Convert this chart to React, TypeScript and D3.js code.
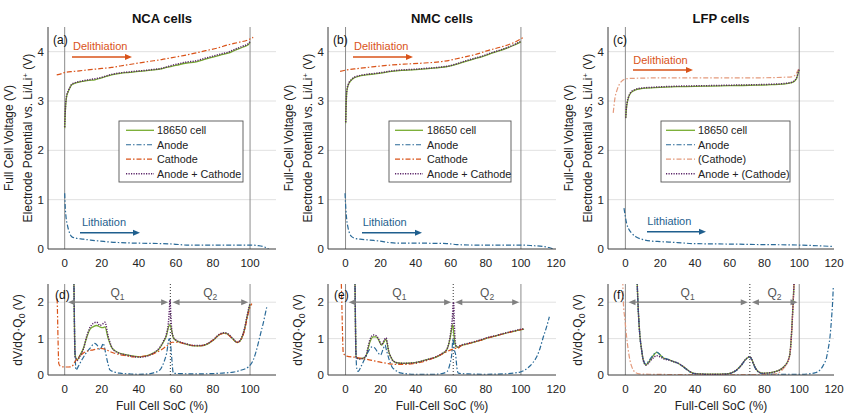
import React from "react";
import * as d3 from "d3";

type Pt = [number, number];

// ---------------- Top row: voltage vs SoC ----------------
const ncaCellV: Pt[] = [[0,2.45],[0.3,2.75],[0.6,2.95],[1,3.08],[1.9,3.19],[3,3.28],[3.8,3.33],[5.5,3.36],[7.4,3.38],[10,3.4],[13,3.42],[16.3,3.43],[20,3.47],[25.3,3.53],[30,3.56],[35,3.58],[40,3.6],[43.3,3.61],[48,3.63],[52,3.65],[55,3.68],[57.7,3.7],[62,3.74],[66,3.77],[70.3,3.79],[75,3.84],[80,3.89],[84,3.93],[88.2,3.97],[92,4.03],[96,4.09],[99,4.14],[100,4.19]];
const ncaSumV: Pt[] = [[0,2.47],[0.3,2.78],[0.6,2.97],[1,3.1],[1.9,3.2],[3,3.29],[3.8,3.34],[5.5,3.37],[7.4,3.39],[10,3.41],[13,3.43],[16.3,3.45],[20,3.48],[25.3,3.54],[30,3.57],[35,3.59],[40,3.61],[43.3,3.62],[48,3.64],[52,3.66],[55,3.69],[57.7,3.72],[62,3.76],[66,3.79],[70.3,3.81],[75,3.86],[80,3.91],[84,3.95],[88.2,3.99],[92,4.05],[96,4.11],[99,4.16],[100,4.2]];
const ncaCathodeV: Pt[] = [[-4.3,3.53],[-2,3.55],[0.2,3.58],[5,3.6],[10,3.62],[15,3.64],[20,3.66],[25.3,3.68],[30,3.71],[35,3.74],[40,3.77],[45,3.8],[52.3,3.84],[58,3.88],[64,3.92],[70.3,3.97],[76,4.02],[82,4.07],[88.2,4.14],[94,4.19],[99,4.24],[101.7,4.29]];
const ncaAnodeV: Pt[] = [[0,1.13],[0.3,0.85],[0.7,0.66],[1.5,0.48],[2.5,0.34],[3.8,0.25],[6,0.22],[10,0.2],[14,0.18],[19.3,0.16],[25,0.14],[30,0.13],[37,0.12],[45,0.115],[52,0.11],[58.6,0.1],[65.8,0.08],[75,0.08],[85,0.08],[100,0.08],[104,0.07],[107,0.05],[109,0.02],[110,0.0]];

const nmcCellV: Pt[] = [[0.1,2.55],[0.3,2.85],[0.7,3.19],[1.5,3.32],[3.5,3.43],[5,3.47],[7.3,3.5],[12,3.53],[16.8,3.55],[21,3.57],[26.3,3.6],[32,3.62],[38,3.63],[45.3,3.65],[52,3.67],[58.6,3.7],[63,3.74],[68.1,3.8],[73,3.85],[78,3.9],[83.4,3.97],[88,4.02],[92,4.07],[96,4.13],[100,4.2]];
const nmcSumV: Pt[] = [[0.1,2.57],[0.3,2.88],[0.7,3.2],[1.5,3.33],[3.5,3.44],[5,3.48],[7.3,3.51],[12,3.54],[16.8,3.56],[21,3.58],[26.3,3.61],[32,3.63],[38,3.64],[45.3,3.66],[52,3.68],[58.6,3.71],[63,3.75],[68.1,3.81],[73,3.86],[78,3.91],[83.4,3.98],[88,4.03],[92,4.08],[96,4.14],[100,4.21]];
const nmcCathodeV: Pt[] = [[-3.1,3.6],[0.7,3.63],[5,3.65],[10,3.67],[15,3.69],[20,3.71],[26.3,3.73],[35,3.75],[45,3.77],[54.8,3.8],[60,3.83],[65,3.87],[70,3.91],[73.8,3.94],[80,4.01],[86,4.07],[92.8,4.14],[97,4.2],[101.4,4.29]];
const nmcAnodeV: Pt[] = [[-0.3,1.13],[0.2,0.8],[0.7,0.59],[1.5,0.42],[3.5,0.25],[6,0.21],[8.3,0.2],[14,0.18],[19.7,0.16],[25,0.13],[29.2,0.12],[40,0.12],[50,0.115],[57.7,0.11],[63.4,0.09],[75,0.08],[90,0.08],[99.5,0.08],[106,0.07],[112.8,0.05],[116,0.03],[118.5,0.0]];

const lfpCellV: Pt[] = [[0.2,2.65],[0.6,2.85],[1.1,2.97],[1.7,3.06],[3,3.16],[5.5,3.22],[9,3.25],[17,3.27],[30,3.29],[45.8,3.3],[60,3.31],[75,3.32],[84.2,3.33],[90,3.34],[95.7,3.37],[97.5,3.41],[98.5,3.46],[99.1,3.53],[99.9,3.63]];
const lfpSumV: Pt[] = [[0.2,2.66],[0.6,2.87],[1.1,2.99],[1.7,3.07],[3,3.17],[5.5,3.23],[9,3.26],[17,3.28],[30,3.3],[45.8,3.31],[60,3.32],[75,3.33],[84.2,3.34],[90,3.35],[95.7,3.38],[97.5,3.42],[98.5,3.47],[99.1,3.54],[99.9,3.64]];
const lfpCathodeV: Pt[] = [[-7,2.76],[-6.5,2.92],[-6,3.06],[-5,3.2],[-4,3.3],[-3.1,3.36],[-1.5,3.42],[0.2,3.45],[5,3.46],[26.6,3.47],[50,3.47],[75,3.47],[90,3.48],[95.7,3.49],[97.5,3.52],[98.5,3.57],[99.9,3.67]];
const lfpAnodeV: Pt[] = [[-0.8,0.83],[0,0.65],[0.7,0.52],[2,0.4],[3.6,0.32],[6,0.25],[10.3,0.19],[15,0.16],[20,0.15],[30,0.13],[39,0.11],[60,0.1],[77.4,0.09],[100,0.08],[119.6,0.05]];

// ---------------- Bottom row: dV/dQ·Q0 vs SoC ----------------
const ncaCellD: Pt[] = [[4.8,3],[5,2.48],[5.3,1.2],[5.6,0.55],[6.8,0.42],[8,0.52],[10,0.72],[12,1.05],[13.6,1.25],[15.5,1.33],[17.3,1.36],[19,1.32],[20.5,1.3],[21.7,1.32],[23.5,1.0],[25.3,0.76],[28,0.64],[33.4,0.55],[40.6,0.5],[45,0.54],[47.8,0.6],[51,0.72],[53.2,0.9],[55,1.1],[55.9,1.3],[56.8,1.38],[57.6,1.25],[58.6,1.02],[60,0.95],[62.2,0.9],[66,0.84],[69.4,0.8],[73,0.8],[76.6,0.84],[80,0.95],[83.8,1.12],[86,1.15],[87.4,1.14],[89,1.08],[90.9,0.98],[93.1,0.89],[94.5,0.93],[95.5,1.02],[97,1.25],[98.2,1.55],[99.3,1.8],[100,1.95]];
const ncaSumD: Pt[] = [[4.8,3],[5,2.48],[5.3,1.2],[5.6,0.5],[6.8,0.4],[8,0.5],[10,0.7],[12,1.08],[13.6,1.3],[15.5,1.42],[17.3,1.45],[19,1.36],[20.5,1.4],[21.7,1.45],[23.5,1.05],[25.3,0.78],[28,0.63],[33.4,0.55],[40.6,0.49],[45,0.53],[47.8,0.6],[51,0.74],[53.2,0.92],[55,1.15],[55.9,1.4],[56.5,1.8],[56.8,2.06],[57.2,1.7],[57.8,1.2],[58.6,1.05],[60,0.96],[62.2,0.91],[66,0.85],[69.4,0.81],[73,0.81],[76.6,0.85],[80,0.96],[83.8,1.13],[86,1.16],[87.4,1.15],[89,1.09],[90.9,0.99],[93.1,0.9],[94.5,0.94],[95.5,1.03],[97,1.27],[98.2,1.57],[99.3,1.83],[100,1.97]];
const ncaCathodeD: Pt[] = [[-4.1,2.1],[-4,1.97],[-3.6,1.0],[-3.2,0.32],[-2.5,0.25],[-1.6,0.23],[0,0.22],[2,0.22],[3.8,0.23],[4.6,0.28],[5.6,0.37],[7.5,0.48],[10,0.6],[12.5,0.66],[15.4,0.69],[19,0.73],[22.6,0.69],[25,0.63],[28,0.58],[33,0.53],[37,0.5],[42,0.51],[47.8,0.58],[51,0.66],[53,0.72],[55,0.8],[56.5,0.86],[58,0.9],[60,0.9],[62.2,0.89],[66,0.84],[69.4,0.81],[73,0.8],[76.6,0.85],[80,0.96],[83.8,1.12],[86,1.14],[87.4,1.13],[89,1.07],[90.9,0.98],[93.1,0.9],[94.5,0.93],[95.5,1.0],[97,1.22],[98.2,1.5],[99.3,1.75],[100.5,1.92],[101,1.96]];
const ncaAnodeD: Pt[] = [[4.8,3],[5,2.48],[5.4,1.0],[5.8,0.35],[6.1,0.14],[7.5,0.25],[9.2,0.41],[11.5,0.6],[13.6,0.73],[16.3,0.87],[17.5,0.82],[19,0.69],[20,0.78],[20.8,0.87],[21.5,0.75],[22.3,0.55],[23.4,0.3],[24.4,0.14],[27,0.08],[29.8,0.05],[35,0.03],[40,0.02],[45,0.03],[48,0.06],[51.4,0.14],[53.5,0.35],[55,0.6],[56.4,1.0],[57.1,0.85],[57.7,0.5],[58.6,0.05],[62,0.04],[70,0.03],[80,0.04],[91,0.08],[95,0.13],[99,0.22],[101.7,0.41],[103,0.6],[104.4,0.87],[106,1.2],[107.1,1.42],[108.2,1.68],[109,1.86]];

const nmcCellD: Pt[] = [[5.2,3],[5.4,2.48],[5.7,1.2],[6,0.5],[7,0.46],[8.3,0.45],[10,0.46],[11.7,0.52],[13,0.75],[14,0.92],[15.9,1.05],[17.5,1.05],[18.7,0.98],[20.6,0.82],[21.8,0.9],[23.1,0.98],[24,0.8],[24.4,0.69],[25.8,0.5],[27.3,0.38],[30,0.33],[33,0.32],[38,0.33],[42.5,0.37],[47,0.43],[52,0.5],[55,0.58],[57.7,0.69],[59.6,1.0],[61.1,1.38],[61.8,1.1],[62.5,0.85],[63.3,0.77],[64.3,0.76],[65.4,0.8],[70,0.86],[76.7,0.95],[81,1.02],[86.2,1.08],[90,1.13],[95,1.19],[99.5,1.24],[101.8,1.26]];
const nmcSumD: Pt[] = [[5.2,3],[5.4,2.48],[5.7,1.2],[6,0.5],[7,0.45],[8.3,0.44],[10,0.46],[11.7,0.54],[13,0.8],[14,0.98],[15.9,1.1],[17.5,1.08],[18.7,1.0],[20.6,0.83],[21.8,0.94],[23.1,1.02],[24,0.82],[24.4,0.7],[25.8,0.5],[27.3,0.38],[30,0.33],[33,0.32],[38,0.33],[42.5,0.37],[47,0.43],[52,0.51],[55,0.59],[57.7,0.7],[59.6,1.05],[60.8,1.5],[61.6,2.0],[62.1,1.3],[62.7,0.86],[63.3,0.78],[64.3,0.77],[65.4,0.81],[70,0.87],[76.7,0.96],[81,1.03],[86.2,1.09],[90,1.14],[95,1.2],[99.5,1.25],[101.8,1.27]];
const nmcCathodeD: Pt[] = [[-2.4,2.5],[-2.2,2.15],[-1.8,1.3],[-1.3,0.6],[0.7,0.52],[5,0.49],[12.1,0.43],[18,0.37],[23.5,0.32],[29.2,0.29],[33,0.29],[38.7,0.31],[43,0.35],[48.2,0.43],[53,0.53],[57.7,0.64],[60,0.69],[62.4,0.73],[63.5,0.74],[64.3,0.74],[65.3,0.78],[70,0.86],[76.7,0.95],[81,1.02],[86.2,1.08],[90,1.13],[95,1.19],[99.5,1.24],[101.8,1.27]];
const nmcAnodeD: Pt[] = [[5.2,3],[5.4,2.48],[5.8,1.0],[6.4,0.18],[7.2,0.1],[9,0.25],[11,0.45],[13,0.65],[15,0.77],[16.5,0.75],[18,0.65],[20,0.55],[21.5,0.72],[22.5,0.82],[23.5,0.65],[25,0.4],[26.5,0.22],[28,0.15],[30,0.08],[32,0.05],[40,0.02],[50,0.02],[55,0.04],[58,0.1],[59.5,0.3],[60.5,0.55],[61.3,1.0],[62,0.7],[62.8,0.55],[63.5,0.2],[64.3,0.05],[70,0.03],[80,0.02],[90,0.03],[99.5,0.08],[104,0.2],[107,0.35],[109,0.5],[111,0.75],[112.8,1.05],[114.5,1.3],[116.2,1.6]];

const lfpCellD: Pt[] = [[6.5,3],[6.8,2.52],[7.5,1.7],[8.4,1.05],[9.3,0.7],[10.3,0.41],[11.8,0.28],[13,0.33],[14.2,0.41],[16,0.53],[18,0.62],[20,0.55],[21.8,0.47],[25,0.42],[27.6,0.37],[30,0.33],[33.3,0.23],[35.5,0.15],[37.2,0.09],[39,0.05],[42,0.03],[50,0.02],[58.3,0.03],[61,0.06],[64,0.14],[66.5,0.26],[68.8,0.41],[71.3,0.5],[72.3,0.47],[73.6,0.32],[75,0.18],[76.5,0.09],[79,0.05],[83,0.06],[86,0.09],[88.9,0.14],[91,0.22],[92.8,0.32],[94,0.45],[94.7,0.6],[95.4,1.0],[96,1.51],[96.5,2.0],[97,2.52],[97.3,3]];
const lfpSumD: Pt[] = [[6.5,3],[6.8,2.52],[7.5,1.7],[8.4,1.05],[9.3,0.7],[10.3,0.4],[11.8,0.27],[13,0.31],[14.2,0.38],[16,0.47],[18,0.53],[20,0.5],[21.8,0.45],[25,0.41],[27.6,0.37],[30,0.33],[33.3,0.23],[35.5,0.15],[37.2,0.09],[39,0.05],[42,0.03],[50,0.02],[58.3,0.03],[61,0.06],[64,0.14],[66.5,0.26],[68.8,0.41],[71.3,0.5],[72.3,0.47],[73.6,0.32],[75,0.18],[76.5,0.09],[79,0.05],[83,0.06],[86,0.09],[88.9,0.14],[91,0.22],[92.8,0.32],[94,0.45],[94.7,0.6],[95.4,1.0],[96,1.51],[96.5,2.0],[97,2.52],[97.3,3]];
const lfpCathodeD: Pt[] = [[-1.5,2.6],[-1.2,2.02],[-0.2,1.5],[0.7,1.05],[1.6,0.7],[2.6,0.41],[3.5,0.25],[4.5,0.14],[6,0.06],[8,0.03],[15,0.02],[40,0.01],[70,0.01],[85,0.02],[88.9,0.08],[91,0.18],[92.8,0.3],[94,0.44],[94.7,0.58],[95.4,0.98],[96,1.48],[96.5,2.0],[97,2.5],[97.3,3]];
const lfpAnodeD: Pt[] = [[6.5,3],[6.8,2.52],[7.5,1.7],[8.4,1.05],[9.3,0.7],[10.3,0.42],[11.8,0.3],[13,0.36],[14.2,0.44],[16,0.55],[18,0.63],[20,0.56],[21.8,0.48],[25,0.42],[27.6,0.37],[30,0.33],[33.3,0.22],[35.5,0.14],[37.2,0.08],[39,0.04],[42,0.02],[50,0.01],[58.3,0.02],[61,0.05],[64,0.13],[66.5,0.25],[68.8,0.4],[71.3,0.49],[72.3,0.46],[73.6,0.3],[75,0.16],[76.5,0.08],[79,0.03],[90,0.02],[100,0.02],[105,0.03],[109,0.06],[112,0.14],[114,0.28],[115.8,0.5],[116.8,0.75],[117.7,1.05],[118.5,1.5],[119.2,2.0],[119.6,2.43]];

// ---------------- Labels & ticks ----------------
const titles = ["NCA cells", "NMC cells", "LFP cells"];
const topLetters = ["(a)", "(b)", "(c)"];
const bottomLetters = ["(d)", "(e)", "(f)"];
const fullCellVoltageLabels = ["Full Cell Voltage (V)", "Full-Cell Voltage (V)", "Full-Cell Voltage (V)"];
const socLabels = ["Full Cell SoC (%)", "Full-Cell SoC (%)", "Full-Cell SoC (%)"];
const legendLabelsStd = ["18650 cell", "Anode", "Cathode", "Anode + Cathode"];
const legendLabelsLfp = ["18650 cell", "Anode", "(Cathode)", "Anode + (Cathode)"];
const xTicksNca = [0, 20, 40, 60, 80, 100];
const xTicksWide = [0, 20, 40, 60, 80, 100, 120];
const yTicksTop = [0, 1, 2, 3, 4];
const yTicksBottom = [0, 1, 2];
const qBoundaries = [57, 61.4, 71.6];
const xDomains: [number, number][] = [[-9, 114], [-10, 120], [-10, 120]];

const seriesKeys = ["cell", "anode", "cathode", "sum"] as const;
type Kind = typeof seriesKeys[number];

const topData: Record<Kind, Pt[]>[] = [
  { cell: ncaCellV, anode: ncaAnodeV, cathode: ncaCathodeV, sum: ncaSumV },
  { cell: nmcCellV, anode: nmcAnodeV, cathode: nmcCathodeV, sum: nmcSumV },
  { cell: lfpCellV, anode: lfpAnodeV, cathode: lfpCathodeV, sum: lfpSumV },
];
const bottomData: Record<Kind, Pt[]>[] = [
  { cell: ncaCellD, anode: ncaAnodeD, cathode: ncaCathodeD, sum: ncaSumD },
  { cell: nmcCellD, anode: nmcAnodeD, cathode: nmcCathodeD, sum: nmcSumD },
  { cell: lfpCellD, anode: lfpAnodeD, cathode: lfpCathodeD, sum: lfpSumD },
];

// ---------------- Styles / layout ----------------
const FONT = "'Liberation Sans', Arial, Helvetica, sans-serif";
const STYLE: Record<Kind, { stroke: string; width: number; dash?: string }> = {
  cell: { stroke: "#77AC30", width: 1.3 },
  anode: { stroke: "#2A6A98", width: 1.2, dash: "5,2,1.5,2" },
  cathode: { stroke: "#D95319", width: 1.2, dash: "5,2,1.5,2" },
  sum: { stroke: "#5A2468", width: 1.5, dash: "1.2,1.3" },
};
const LFP_CATHODE = "#E49A7C";
const ORANGE = "#D95319";
const BLUE = "#1F5F8E";
const GRAY = "#808080";

const colLayout = [
  { x0: 48, x1: 276, ylab1: 13, ylab2: 31.5, dlab: 22,
    deli: { tx: 73, ty: 49.5, ax0: 72, ax1: 132, ay: 57 },
    lith: { tx: 82, ty: 226, ax0: 80, ax1: 140, ay: 232.7 },
    legend: { x: 119, w: 124, lx0: 126, lx1: 154, tx: 157 },
    letter: { x: 53, y: 44 }, dletter: { x: 55, y: 299 } },
  { x0: 328, x1: 556, ylab1: 293, ylab2: 311.5, dlab: 302,
    deli: { tx: 354, ty: 49.5, ax0: 353, ax1: 413, ay: 57 },
    lith: { tx: 362.7, ty: 226, ax0: 362, ax1: 422, ay: 232.7 },
    legend: { x: 389, w: 122, lx0: 395, lx1: 423, tx: 427 },
    letter: { x: 333, y: 44 }, dletter: { x: 334, y: 299 } },
  { x0: 608, x1: 834, ylab1: 573, ylab2: 591.5, dlab: 582,
    deli: { tx: 633.3, ty: 64, ax0: 633, ax1: 693, ay: 70 },
    lith: { tx: 647.3, ty: 225, ax0: 647, ax1: 706, ay: 231.7 },
    legend: { x: 661, w: 129, lx0: 666, lx1: 695, tx: 698 },
    letter: { x: 613, y: 44 }, dletter: { x: 613, y: 299 } },
];

const TOP = { y0: 249, y1: 27 };
const BOT = { y0: 375, y1: 284 };

function strokeFor(k: Kind, col: number) {
  return k === "cathode" && col === 2 ? LFP_CATHODE : STYLE[k].stroke;
}

function Arrow({ x0, x1, y, color, both = false, w = 1.4 }: { x0: number; x1: number; y: number; color: string; both?: boolean; w?: number }) {
  const hl = 7, hw = 3;
  return (
    <g>
      <line x1={both ? x0 + hl - 1 : x0} x2={x1 - hl + 1} y1={y} y2={y} stroke={color} strokeWidth={w} />
      <polygon points={`${x1},${y} ${x1 - hl},${y - hw} ${x1 - hl},${y + hw}`} fill={color} />
      {both && <polygon points={`${x0},${y} ${x0 + hl},${y - hw} ${x0 + hl},${y + hw}`} fill={color} />}
    </g>
  );
}

function Curves({ data, x, y, clip, col }: { data: Record<Kind, Pt[]>; x: d3.ScaleLinear<number, number>; y: d3.ScaleLinear<number, number>; clip: string; col: number }) {
  const line = d3.line<Pt>().x((d) => x(d[0])).y((d) => y(d[1])).curve(d3.curveMonotoneX);
  return (
    <g clipPath={`url(#${clip})`}>
      {seriesKeys.map((k) => (
        <path key={k} d={line(data[k]) || ""} fill="none" stroke={strokeFor(k, col)} strokeWidth={STYLE[k].width}
          strokeDasharray={STYLE[k].dash} strokeLinejoin="round" />
      ))}
    </g>
  );
}

function Panel({ col, row }: { col: number; row: number }) {
  const L = colLayout[col];
  const R = row === 0 ? TOP : BOT;
  const x = d3.scaleLinear().domain(xDomains[col]).range([L.x0, L.x1]);
  const y = d3.scaleLinear().domain(row === 0 ? [0, 4.5] : [0, 2.5]).range([R.y0, R.y1]);
  const yTicks = row === 0 ? yTicksTop : yTicksBottom;
  const xTicks = col === 0 ? xTicksNca : xTicksWide;
  const clip = `clip-${row}-${col}`;
  const tickY = row === 0 ? 267 : 393;
  const data = row === 0 ? topData[col] : bottomData[col];
  const legendLabels = col === 2 ? legendLabelsLfp : legendLabelsStd;
  const qb = qBoundaries[col];
  const midY = (R.y0 + R.y1) / 2;
  return (
    <g>
      <defs>
        <clipPath id={clip}>
          <rect x={L.x0} y={R.y1} width={L.x1 - L.x0} height={R.y0 - R.y1} />
        </clipPath>
      </defs>
      {yTicks.filter((t) => t > 0).map((t) => (
        <line key={t} x1={L.x0} x2={L.x1} y1={y(t)} y2={y(t)} stroke="#dedede" strokeWidth={0.9} />
      ))}
      {[0, 100].map((v) => (
        <line key={v} x1={x(v)} x2={x(v)} y1={R.y1} y2={R.y0} stroke="#8c8c8c" strokeWidth={1} />
      ))}
      {row === 1 && (
        <line x1={x(qb)} x2={x(qb)} y1={R.y1} y2={R.y0} stroke="#333" strokeWidth={1} strokeDasharray="1,2" />
      )}
      <Curves data={data} x={x} y={y} clip={clip} col={col} />
      <line x1={L.x0} x2={L.x0} y1={R.y1} y2={R.y0} stroke="#3a3a3a" strokeWidth={1} />
      <line x1={L.x0} x2={L.x1} y1={R.y0} y2={R.y0} stroke="#3a3a3a" strokeWidth={1} />
      {yTicks.map((t) => (
        <text key={t} x={L.x0 - 4} y={y(t) + 4} textAnchor="end" fontSize={11.5} fill="#222">{t}</text>
      ))}
      {xTicks.map((t) => (
        <text key={t} x={x(t)} y={tickY} textAnchor="middle" fontSize={11.5} fill="#222">{t}</text>
      ))}
      {row === 0 ? (
        <g>
          <text x={(L.x0 + L.x1) / 2} y={22.5} textAnchor="middle" fontSize={13} fontWeight="bold" fill="#111">{titles[col]}</text>
          <text transform={`translate(${L.ylab1},${midY}) rotate(-90)`} textAnchor="middle" fontSize={12} fill="#222">{fullCellVoltageLabels[col]}</text>
          <text transform={`translate(${L.ylab2},${midY}) rotate(-90)`} textAnchor="middle" fontSize={12} fill="#222">
            Electrode Potential vs. Li/Li<tspan dy={-4} fontSize={8}>+</tspan><tspan dy={4}> (V)</tspan>
          </text>
          <text x={L.letter.x} y={L.letter.y} fontSize={12} fill="#111">{topLetters[col]}</text>
          <text x={L.deli.tx} y={L.deli.ty} fontSize={11} fill={ORANGE}>Delithiation</text>
          <Arrow x0={L.deli.ax0} x1={L.deli.ax1} y={L.deli.ay} color={ORANGE} />
          <text x={L.lith.tx} y={L.lith.ty} fontSize={11} fill={BLUE}>Lithiation</text>
          <Arrow x0={L.lith.ax0} x1={L.lith.ax1} y={L.lith.ay} color={BLUE} />
          <rect x={L.legend.x} y={121} width={L.legend.w} height={61} fill="#fff" stroke="#555" strokeWidth={0.9} />
          {seriesKeys.map((k, i) => {
            const ly = 130.3 + i * 14.45;
            return (
              <g key={k}>
                <line x1={L.legend.lx0} x2={L.legend.lx1} y1={ly} y2={ly} stroke={strokeFor(k, col)}
                  strokeWidth={STYLE[k].width} strokeDasharray={STYLE[k].dash} />
                <text x={L.legend.tx} y={ly + 4} fontSize={10.8} fill="#222">{legendLabels[i]}</text>
              </g>
            );
          })}
        </g>
      ) : (
        <g>
          <text transform={`translate(${L.dlab},${330}) rotate(-90)`} textAnchor="middle" fontSize={12} fill="#222">
            dV/dQ·Q<tspan dy={3} fontSize={8.5}>0</tspan><tspan dy={-3}> (V)</tspan>
          </text>
          <text x={(L.x0 + L.x1) / 2} y={410} textAnchor="middle" fontSize={12} fill="#222">{socLabels[col]}</text>
          <text x={L.dletter.x} y={L.dletter.y} fontSize={12} fill="#111">{bottomLetters[col]}</text>
          <Arrow x0={x(1.8)} x1={x(qb - 1.2)} y={y(2)} color={GRAY} both w={1.3} />
          <Arrow x0={x(qb + 1.2)} x1={x(99)} y={y(2)} color={GRAY} both w={1.3} />
          <text x={(x(0) + x(qb)) / 2} y={297} textAnchor="middle" fontSize={12} fill="#555">Q<tspan dy={3} fontSize={8.5}>1</tspan></text>
          <text x={(x(qb) + x(100)) / 2} y={297} textAnchor="middle" fontSize={12} fill="#555">Q<tspan dy={3} fontSize={8.5}>2</tspan></text>
        </g>
      )}
    </g>
  );
}

export default function App() {
  return (
    <svg width={850} height={419} style={{ position: "absolute", left: 0, top: 0, background: "#fff" }}
      fontFamily={FONT}>
      <rect x={0} y={0} width={850} height={419} fill="#fff" />
      {[0, 1, 2].map((c) => (
        <g key={c}>
          <Panel col={c} row={0} />
          <Panel col={c} row={1} />
        </g>
      ))}
    </svg>
  );
}
